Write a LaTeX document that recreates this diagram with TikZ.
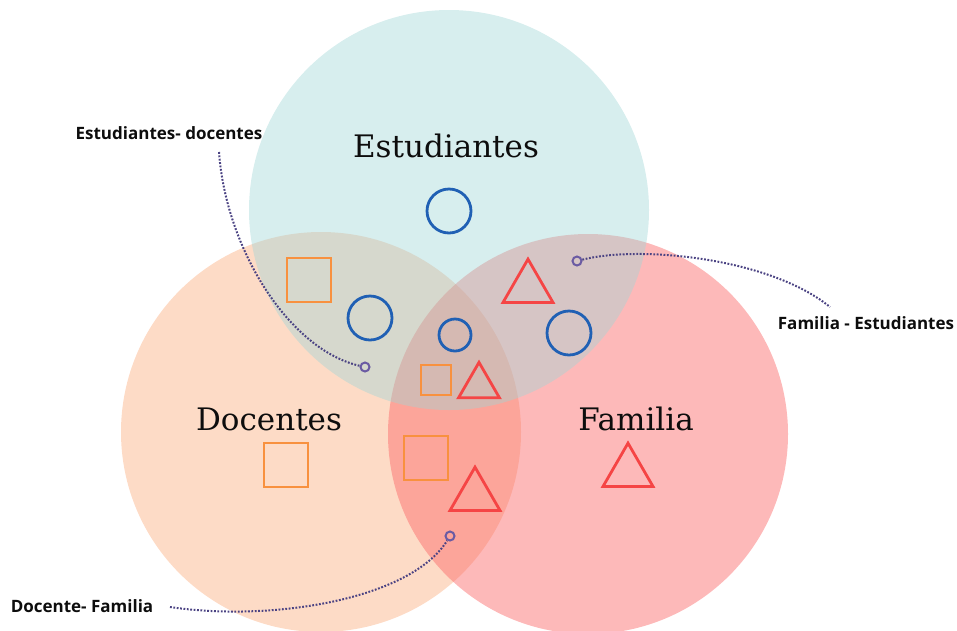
\documentclass[tikz,border=0pt]{standalone}
\usepackage{fontspec}
\usetikzlibrary{shapes.geometric}
\newfontfamily\setfont{DejaVu Serif}
\newfontfamily\tagfont{Open Sans}
\definecolor{estcol}{HTML}{A0D6D6}
\definecolor{doccol}{HTML}{FBAF81}
\definecolor{famcol}{HTML}{FB6464}
\definecolor{bluecol}{HTML}{2060B4}
\definecolor{orangecol}{HTML}{F8913F}
\definecolor{redcol}{HTML}{F54545}
\definecolor{leadcol}{HTML}{4B4383}
\definecolor{dotcol}{HTML}{6B5BA3}
\begin{document}
\begin{tikzpicture}[x=1pt,y=-1pt,
   set/.style={circle,minimum size=400,inner sep=0pt,draw=none},
   setname/.style={anchor=base,font=\setfont\fontsize{31}{37}\selectfont,text=black!95},
   tag/.style={anchor=base,font=\tagfont\bfseries\fontsize{17}{20}\selectfont,text=black!95},
   circ/.style={circle,draw=bluecol,line width=2.8pt,minimum size=44,inner sep=0pt},
   sqr/.style={rectangle,draw=orangecol,line width=2.8pt,minimum size=44,inner sep=0pt},
   tri/.style={regular polygon,regular polygon sides=3,draw=redcol,line width=2.8pt,minimum size=57.7,inner sep=0pt},
   enddot/.style={circle,draw=dotcol,line width=2pt,minimum size=9,inner sep=0pt},
   lead/.style={draw=leadcol,line width=2pt,dash pattern=on 1.8pt off 1.6pt}]
   \useasboundingbox (0,0) rectangle (957,630);
   \clip (0,0) rectangle (957,630);
   \node[set,fill=doccol,fill opacity=.45] (doc) at (321,432) {};
   \node[set,fill=famcol,fill opacity=.45] (fam) at (588,434) {};
   \node[set,fill=estcol,fill opacity=.42] (est) at (449,210) {};
   \node[circ] (c1) at (449,211) {};
   \node[circ] (c2) at (370,318) {};
   \node[circ,minimum size=32] (c3) at (455,335) {};
   \node[circ] (c4) at (569,333) {};
   \node[sqr] (s1) at (309,280) {};
   \node[sqr,minimum size=30] (s2) at (436,380) {};
   \node[sqr] (s3) at (426,458) {};
   \node[sqr] (s4) at (286,465) {};
   \node[tri] (t1) at (528,288) {};
   \node[tri,minimum size=47.3] (t2) at (479,386) {};
   \node[tri] (t3) at (475,496) {};
   \node[tri] (t4) at (628,472) {};
   \node[setname] (estname) at (446,157) {Estudiantes};
   \node[setname] (docname) at (269,430) {Docentes};
   \node[setname] (famname) at (636,430) {Familia};
   \node[tag] (edtag) at (169,139) {Estudiantes- docentes};
   \node[tag] (fetag) at (866,329) {Familia - Estudiantes};
   \node[tag] (dftag) at (82,612) {Docente- Familia};
   \node[enddot] (eddot) at (365,367) {};
   \node[enddot] (fedot) at (577,261) {};
   \node[enddot] (dfdot) at (450,536) {};
   \coordinate (edfrom) at (219,152);
   \coordinate (feto) at (830,307);
   \coordinate (dffrom) at (170,607);
   \draw[lead] (edfrom) .. controls (226,250) and (290,350) .. (eddot);
   \draw[lead] (fedot) .. controls (640,245) and (770,258) .. (feto);
   \draw[lead] (dffrom) .. controls (270,622) and (410,600) .. (dfdot);
\end{tikzpicture}
\end{document}
